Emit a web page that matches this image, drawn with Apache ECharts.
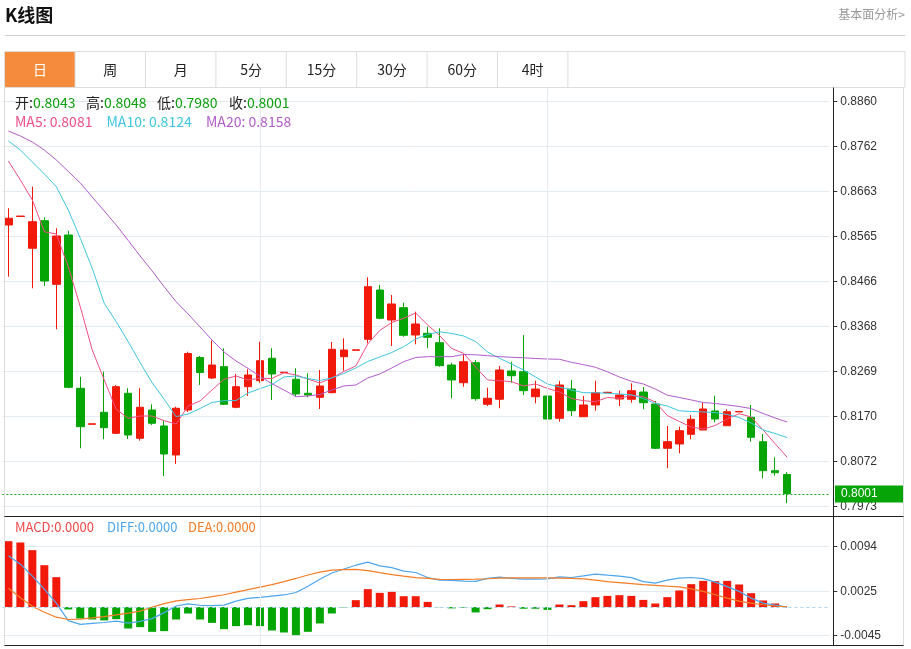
<!DOCTYPE html>
<html><head><meta charset="utf-8">
<script src="https://cdn.jsdelivr.net/npm/echarts@6/dist/echarts.min.js"></script>
<style>html,body{margin:0;padding:0;background:#fff;}#c{width:911px;height:649px;}</style>
</head><body><div id="c"></div>
<script>
const categories = ['1','2','3','4','5','6','7','8','9','10','11','12','13','14','15','16','17','18','19','20','21','22','23','24','25','26','27','28','29','30','31','32','33','34','35','36','37','38','39','40','41','42','43','44','45','46','47','48','49','50','51','52','53','54','55','56','57','58','59','60','61','62','63','64','65','66'];
const openV = [0.85894,0.8608,0.85384,0.85988,0.84595,0.85675,0.82318,0.8153,0.81792,0.81332,0.82208,0.81223,0.81842,0.81492,0.80857,0.81842,0.82992,0.82543,0.82791,0.81902,0.82353,0.82484,0.82975,0.8266,0.82515,0.82208,0.8212,0.82221,0.8301,0.8315,0.83391,0.8447,0.83813,0.84083,0.83485,0.83522,0.83316,0.82828,0.8244,0.82878,0.81967,0.82077,0.82697,0.82681,0.82134,0.82149,0.81661,0.82302,0.81695,0.81952,0.8222,0.82083,0.82077,0.82236,0.81974,0.81004,0.81098,0.8131,0.81404,0.81821,0.81498,0.818,0.81682,0.81148,0.80513,0.8043];
const closeV = [0.86041,0.8609,0.85966,0.84668,0.85653,0.8234,0.81477,0.8154,0.81455,0.82353,0.81295,0.81902,0.81551,0.80879,0.8188,0.8308,0.82664,0.82828,0.81967,0.82353,0.82609,0.82922,0.82631,0.8267,0.82193,0.82171,0.82368,0.83172,0.83156,0.8316,0.84543,0.83851,0.84164,0.83478,0.83726,0.83434,0.82813,0.82499,0.829,0.8209,0.82099,0.82718,0.82593,0.82265,0.82302,0.81645,0.8239,0.81827,0.81952,0.82221,0.8223,0.82171,0.82265,0.82002,0.81004,0.81148,0.81389,0.81639,0.81864,0.81645,0.81805,0.8181,0.81245,0.80513,0.80469,0.8001];
const lowV = [0.84762,0.8608,0.84508,0.84558,0.8361,0.82318,0.81004,0.8153,0.81201,0.81317,0.81207,0.8117,0.81514,0.80397,0.8066,0.81799,0.8239,0.82521,0.81952,0.8188,0.82149,0.8244,0.82061,0.8266,0.82149,0.8212,0.81864,0.82208,0.82703,0.8315,0.83303,0.83829,0.83244,0.83448,0.83281,0.83194,0.82791,0.82099,0.82353,0.82046,0.8193,0.8188,0.8244,0.82171,0.81989,0.81564,0.81586,0.81711,0.81695,0.81827,0.8221,0.8193,0.82002,0.81858,0.80988,0.80566,0.80894,0.81201,0.81404,0.81573,0.81498,0.818,0.81148,0.80347,0.80403,0.798];
const highV = [0.8626,0.8609,0.86733,0.86063,0.85822,0.85769,0.82572,0.8154,0.82681,0.8239,0.82318,0.82318,0.81967,0.81623,0.81915,0.83119,0.83025,0.83365,0.83194,0.82631,0.82734,0.83338,0.83194,0.8267,0.82756,0.82646,0.82718,0.83332,0.83413,0.8316,0.84749,0.8458,0.84361,0.84192,0.83995,0.83667,0.83632,0.82878,0.83069,0.82937,0.82331,0.82806,0.829,0.83485,0.82484,0.82318,0.82478,0.82499,0.82149,0.82484,0.8224,0.82265,0.82427,0.82346,0.8204,0.81492,0.81477,0.81733,0.82002,0.82156,0.81858,0.8181,0.81952,0.81317,0.80806,0.8048];
const ma5 = [0.87296,0.8688,0.86442,0.85747,0.85697,0.84981,0.84105,0.83157,0.825,0.81858,0.81661,0.81711,0.81711,0.81608,0.81536,0.8193,0.8204,0.8228,0.82515,0.82587,0.825,0.82537,0.82532,0.82659,0.82609,0.82521,0.82434,0.82543,0.82686,0.82806,0.83288,0.83584,0.83759,0.83851,0.83967,0.83704,0.83474,0.83189,0.83084,0.82784,0.825,0.82484,0.82462,0.82368,0.82412,0.82316,0.82237,0.82094,0.82046,0.82024,0.82116,0.82099,0.82164,0.82134,0.82018,0.81722,0.81591,0.8147,0.81426,0.81503,0.81645,0.81761,0.81689,0.81404,0.81104,0.8081];
const ma10 = [0.87734,0.87536,0.87274,0.87011,0.86733,0.86222,0.85603,0.84946,0.84179,0.83776,0.83338,0.82878,0.8244,0.82077,0.81696,0.81755,0.81875,0.82007,0.82046,0.8205,0.82215,0.82309,0.82401,0.82565,0.82587,0.82532,0.82489,0.82543,0.82642,0.82762,0.82905,0.83003,0.83102,0.83229,0.83397,0.83496,0.83555,0.83518,0.83463,0.83343,0.83113,0.82975,0.8285,0.82719,0.82565,0.82412,0.82346,0.8228,0.82221,0.82221,0.82208,0.82193,0.82175,0.82094,0.81985,0.8193,0.81825,0.8181,0.81799,0.81786,0.81744,0.81678,0.81558,0.81404,0.81328,0.8124];
const ma20 = [0.87953,0.87843,0.87712,0.87537,0.87318,0.87066,0.86814,0.86507,0.86201,0.85894,0.85555,0.85215,0.84887,0.84543,0.84214,0.83945,0.8366,0.83376,0.83113,0.82916,0.82754,0.82581,0.82416,0.82281,0.82134,0.82149,0.82182,0.82281,0.82368,0.8239,0.82543,0.82631,0.82762,0.829,0.82992,0.8301,0.8301,0.8301,0.83058,0.83051,0.83032,0.8301,0.82997,0.82986,0.8297,0.82959,0.82953,0.82887,0.82835,0.82778,0.82679,0.82565,0.82471,0.82412,0.82302,0.82167,0.82116,0.82062,0.82007,0.81985,0.81952,0.81919,0.81873,0.81766,0.81667,0.8158];
const macdBar = [0.01029,0.01009,0.00889,0.00654,0.00467,-0.00037,-0.00178,-0.00194,-0.00209,-0.00189,-0.00334,-0.00314,-0.00387,-0.00376,-0.00194,-0.001,-0.00194,-0.00247,-0.00345,-0.00298,-0.00283,-0.00298,-0.00366,-0.00397,-0.00439,-0.00387,-0.00256,-0.001,-0.00006,0.00108,0.0028,0.00222,0.00237,0.0017,0.0017,0.00081,-0.00003,-0.0002,-0.0001,-0.00084,-0.00033,0.0004,0.0001,-0.00026,-0.00026,-0.00044,0.0004,0.0003,0.00092,0.00155,0.00175,0.00186,0.00175,0.00112,0.00056,0.00155,0.00259,0.00358,0.00409,0.00405,0.00409,0.00353,0.00217,0.00103,0.00056,0];
const diffV = [0.00801,0.0067,0.00483,0.0028,0.00061,-0.00212,-0.0027,-0.00256,-0.00241,-0.0022,-0.00251,-0.00223,-0.00181,-0.00087,0.00017,0.0005,0.00028,0.00022,0.0003,0.00092,0.00136,0.00152,0.0017,0.00189,0.00228,0.00326,0.00436,0.00533,0.00595,0.00654,0.00701,0.00644,0.00617,0.00561,0.0054,0.00461,0.0042,0.00416,0.00405,0.00401,0.00448,0.00469,0.00448,0.00436,0.00436,0.00439,0.00472,0.00462,0.00486,0.00514,0.00498,0.00483,0.00459,0.00397,0.00373,0.0042,0.00451,0.00462,0.00444,0.00389,0.00319,0.00245,0.00139,0.00062,0.0003,0];
const deaV = [0.00295,0.00147,0.00014,-0.0008,-0.00158,-0.00194,-0.00189,-0.0017,-0.00148,-0.00122,-0.00095,-0.00064,-0.00002,0.00053,0.00097,0.00116,0.00134,0.00162,0.00192,0.00233,0.00272,0.00311,0.0035,0.00397,0.00447,0.00501,0.00545,0.00576,0.00586,0.00589,0.00569,0.00537,0.00508,0.00483,0.00461,0.00447,0.00433,0.00431,0.00434,0.00436,0.00442,0.00451,0.00456,0.00456,0.00456,0.00456,0.00453,0.00448,0.0044,0.0042,0.00398,0.00383,0.00367,0.0035,0.00339,0.00326,0.00316,0.00284,0.00245,0.00192,0.00139,0.00092,0.00061,0.00036,0.00017,0.00003];
const priceTicks = [0.79733,0.807186,0.817041,0.826897,0.836752,0.846608,0.856464,0.866319,0.876175,0.88603];
const macdTicks = [-0.00447,0.00248,0.00943];
const tabs = ['日','周','月','5分','15分','30分','60分','4时'];
const monthMarks = ['22','46'];
const lastPrice = 0.8001;

const UP = '#f0190a', DOWN = '#04a504';
const C_MA5 = '#ef4f86', C_MA10 = '#3ec6de', C_MA20 = '#b35ccb';
const C_DIFF = '#4ea6ee', C_DEA = '#f47d26', C_MACD = '#f04848';
const GRIDC = '#e3eaf0';
const last = openV.length - 1;
const xCats = categories.concat(['', '', '']);
const candleData = openV.map((o, i) => [o, closeV[i], lowV[i], highV[i]]);
const barData = macdBar.map(v => ({value: v, itemStyle: {color: v >= 0 ? UP : DOWN}}));
const CJK = '"Noto Sans CJK SC","Noto Sans",sans-serif';

const graphics = [];
graphics.push({type:'text', x:5, y:15, style:{text:'K线图', font:'bold 18px ' + CJK, fill:'#111', verticalAlign:'middle', textVerticalAlign:'middle'}});
graphics.push({type:'text', x:905, y:14, style:{text:'基本面分析>', font:'12px ' + CJK, fill:'#999', align:'right', textAlign:'right', verticalAlign:'middle', textVerticalAlign:'middle'}});
graphics.push({type:'line', shape:{x1:5, y1:35.5, x2:905, y2:35.5}, style:{stroke:'#cfcfcf', lineWidth:1}});
graphics.push({type:'rect', shape:{x:4.5, y:51.5, width:900.5, height:36}, style:{fill:'#fff', stroke:'#dddddd', lineWidth:1}});
graphics.push({type:'rect', shape:{x:5, y:52, width:70, height:35}, style:{fill:'#f48b3d'}});
tabs.forEach((t, i) => {
  const x0 = 4.7 + i * 70.4;
  if (i > 0) graphics.push({type:'line', shape:{x1:x0, y1:52, x2:x0, y2:87}, style:{stroke:'#dddddd', lineWidth:1}});
  graphics.push({type:'text', x:x0 + 35.2, y:70, style:{text:t, font:'14px ' + CJK, fill: i === 0 ? '#fff' : '#222', align:'center', textAlign:'center', verticalAlign:'middle', textVerticalAlign:'middle'}});
});
graphics.push({type:'line', shape:{x1:4.7 + 8 * 70.4, y1:52, x2:4.7 + 8 * 70.4, y2:87}, style:{stroke:'#dddddd', lineWidth:1}});
// panel borders
graphics.push({type:'line', z:50, shape:{x1:4.5, y1:87, x2:4.5, y2:646}, style:{stroke:'#dcdcdc', lineWidth:1}});
graphics.push({type:'line', z:50, shape:{x1:903.5, y1:87, x2:903.5, y2:646}, style:{stroke:'#dcdcdc', lineWidth:1}});
graphics.push({type:'line', z:50, shape:{x1:4.5, y1:516.5, x2:903.5, y2:516.5}, style:{stroke:'#222', lineWidth:1}});
graphics.push({type:'line', z:50, shape:{x1:4.5, y1:645.5, x2:903.5, y2:645.5}, style:{stroke:'#222', lineWidth:1}});
// legends
const GREENTXT = '#0c9f0c';
function legendPiece(x, y, lab, val, labColor, valColor, size) {
  const f = size + 'px ' + CJK;
  graphics.push({type:'text', z:60, x:x, y:y, style:{text:'{a|' + lab + '}{b|' + val + '}', font:f, verticalAlign:'middle', textVerticalAlign:'middle',
    rich:{a:{fill:labColor, font:f}, b:{fill:valColor, font:f}}}});
}
legendPiece(15, 103, '开:', openV[last].toFixed(4), '#222', GREENTXT, 14);
legendPiece(86, 103, '高:', highV[last].toFixed(4), '#222', GREENTXT, 14);
legendPiece(157, 103, '低:', lowV[last].toFixed(4), '#222', GREENTXT, 14);
legendPiece(229, 103, '收:', closeV[last].toFixed(4), '#222', GREENTXT, 14);
legendPiece(15, 121.5, 'MA5: ', ma5[last].toFixed(4), C_MA5, C_MA5, 14);
legendPiece(106.5, 121.5, 'MA10: ', ma10[last].toFixed(4), C_MA10, C_MA10, 14);
legendPiece(206, 121.5, 'MA20: ', ma20[last].toFixed(4), C_MA20, C_MA20, 14);
legendPiece(15, 527.5, 'MACD:', Math.abs(macdBar[last]).toFixed(4), C_MACD, C_MACD, 13);
legendPiece(107, 527.5, 'DIFF:', Math.abs(diffV[last]).toFixed(4), C_DIFF, C_DIFF, 13);
legendPiece(188, 527.5, 'DEA:', Math.abs(deaV[last]).toFixed(4), C_DEA, C_DEA, 13);

const axisFont = {color:'#333', fontSize:12, fontFamily:'"Liberation Sans", Arial, sans-serif'};
const chart = echarts.init(document.getElementById('c'), null, {renderer:'canvas'});
chart.setOption({
  animation:false,
  backgroundColor:'#fff',
  grid:[
    {left:2.4, right:82, top:88, height:428.7},
    {left:2.4, right:82, top:516.7, height:129}
  ],
  xAxis:[
    {type:'category', gridIndex:0, data:xCats, boundaryGap:true, axisLine:{show:false}, axisTick:{show:false}, axisLabel:{show:false}, splitLine:{show:false}},
    {type:'category', gridIndex:1, data:xCats, boundaryGap:true, axisLine:{show:false}, axisTick:{show:false}, axisLabel:{show:false}, splitLine:{show:false}}
  ],
  yAxis:[
    {type:'value', gridIndex:0, position:'right', offset:4.3, min:0.795053, max:0.888943, scale:true,
      axisLine:{show:true, lineStyle:{color:'#222', width:1}},
      axisTick:{show:true, length:4, lineStyle:{color:'#333'}, customValues:priceTicks},
      axisLabel:Object.assign({customValues:priceTicks, margin:7, formatter:v => v.toFixed(4)}, axisFont),
      splitLine:{show:true, customValues:priceTicks, lineStyle:{color:GRIDC, width:1}}},
    {type:'value', gridIndex:1, position:'right', offset:4.3, min:-0.006034, max:0.014116,
      axisLine:{show:true, lineStyle:{color:'#222', width:1}},
      axisTick:{show:true, length:4, lineStyle:{color:'#333'}, customValues:macdTicks},
      axisLabel:Object.assign({customValues:macdTicks, margin:7, formatter:v => v.toFixed(4)}, axisFont),
      splitLine:{show:true, customValues:macdTicks, lineStyle:{color:GRIDC, width:1}}}
  ],
  series:[
    {type:'line', xAxisIndex:0, yAxisIndex:0, data:[], z:1, silent:true,
      markLine:{silent:true, symbol:['none','none'], label:{show:false}, lineStyle:{color:GRIDC, type:'solid', width:1},
        data: monthMarks.map(m => ({xAxis:m}))}},
    {type:'line', xAxisIndex:1, yAxisIndex:1, data:[], z:1, silent:true,
      markLine:{silent:true, symbol:['none','none'], label:{show:false}, lineStyle:{color:GRIDC, type:'solid', width:1},
        data: monthMarks.map(m => ({xAxis:m})).concat([{yAxis:0, lineStyle:{color:'#a9d4ec', type:[3,3], width:1}}])}},
    {type:'candlestick', name:'K', xAxisIndex:0, yAxisIndex:0, data:candleData, barWidth:8,
      itemStyle:{color:UP, color0:DOWN, borderColor:UP, borderColor0:DOWN, borderWidth:1},
      markLine:{silent:true, symbol:['none','none'], animation:false,
        lineStyle:{color:'#1aa81a', type:[2,2], width:1},
        label:{show:true, position:'end', distance:6, formatter:() => lastPrice.toFixed(4), color:'#fff', backgroundColor:'#06a406',
          padding:[3,26,2,6], fontSize:12, fontFamily:'"Liberation Sans", Arial, sans-serif'},
        data:[{yAxis:lastPrice}]}},
    {type:'line', name:'MA5', xAxisIndex:0, yAxisIndex:0, data:ma5, showSymbol:false, lineStyle:{color:C_MA5, width:1}, z:3},
    {type:'line', name:'MA10', xAxisIndex:0, yAxisIndex:0, data:ma10, showSymbol:false, lineStyle:{color:C_MA10, width:1}, z:3},
    {type:'line', name:'MA20', xAxisIndex:0, yAxisIndex:0, data:ma20, showSymbol:false, lineStyle:{color:C_MA20, width:1}, z:3},
    {type:'bar', name:'MACD', xAxisIndex:1, yAxisIndex:1, data:barData, barWidth:8, z:2},
    {type:'line', name:'DIFF', xAxisIndex:1, yAxisIndex:1, data:diffV, showSymbol:false, lineStyle:{color:C_DIFF, width:1.2}, z:3},
    {type:'line', name:'DEA', xAxisIndex:1, yAxisIndex:1, data:deaV, showSymbol:false, lineStyle:{color:C_DEA, width:1.2}, z:3}
  ],
  graphic:graphics
});
</script></body></html>
